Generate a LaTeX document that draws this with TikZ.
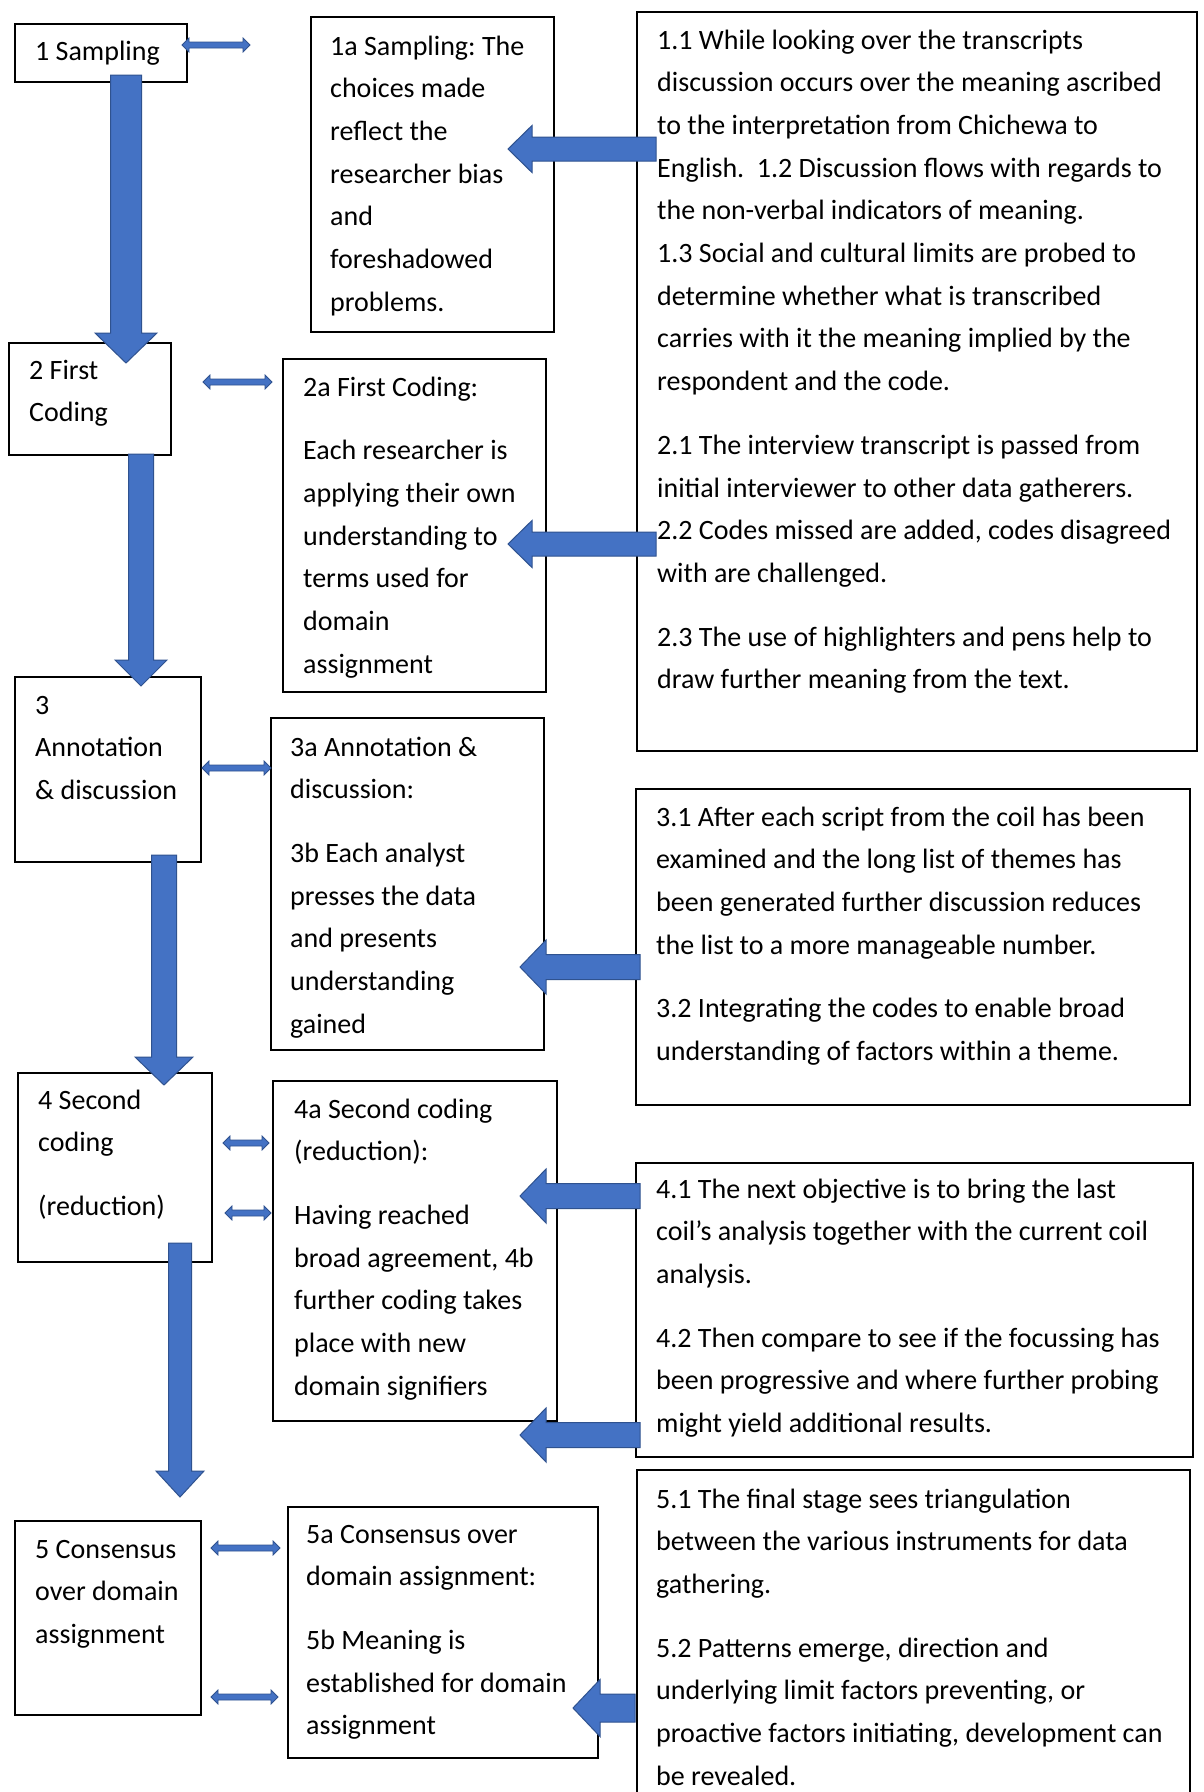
\documentclass[tikz,border=0pt]{standalone}
\usepackage{fontspec}
\setmainfont{Carlito}
\usetikzlibrary{calc}
\definecolor{arrowfill}{HTML}{4472C4}
\definecolor{arrowline}{HTML}{2F528F}
\frenchspacing
\tikzset{
  box/.style={draw=black, line width=2pt, anchor=north west, inner sep=0pt},
  txt/.style={anchor=base west, inner sep=0pt, font=\fontsize{28}{42.7}\selectfont},
  blk/.style={fill=arrowfill, draw=arrowline, line width=1pt, line join=miter},
}
% lines of a text block, first baseline at the node's base
\newcommand\lns[1]{\begin{tabular}[t]{@{}l@{}}#1\end{tabular}}
% rectangle node from its top-left and bottom-right corners
\newcommand\boxat[5]{\node[box, minimum width={#4-#2}, minimum height={#5-#3}] (#1) at (#2,#3) {};}
% wide block arrow pointing left: tip, tail, shaft half, head half, head length
\newcommand\leftblk[5]{\draw[blk] (#1) -- ($(#1)+(#5,-#4)$) -- ($(#1)+(#5,-#3)$) -- ($(#2)+(0,-#3)$) -- ($(#2)+(0,#3)$) -- ($(#1)+(#5,#3)$) -- ($(#1)+(#5,#4)$) -- cycle;}
% wide block arrow pointing down: tail, tip, shaft half, head half, head length
\newcommand\downblk[5]{\draw[blk] (#2) -- ($(#2)+(-#4,-#5)$) -- ($(#2)+(-#3,-#5)$) -- ($(#1)+(-#3,0)$) -- ($(#1)+(#3,0)$) -- ($(#2)+(#3,-#5)$) -- ($(#2)+(#4,-#5)$) -- cycle;}
% thin double-headed arrow between two points on one row
\newcommand\dblk[2]{\draw[blk, line width=0.8pt] (#1) -- ($(#1)+(7,-7)$) -- ($(#1)+(7,-3)$) -- ($(#2)+(-7,-3)$) -- ($(#2)+(-7,-7)$) -- (#2) -- ($(#2)+(-7,7)$) -- ($(#2)+(-7,3)$) -- ($(#1)+(7,3)$) -- ($(#1)+(7,7)$) -- cycle;}
\begin{document}
\begin{tikzpicture}[x=1pt, y=-1pt]
\useasboundingbox (0,0) rectangle (1203,1792);
\fill[white] (0,0) rectangle (1203,1792);
\clip (0,0) rectangle (1203,1792);

% ---- boxes ----
\boxat{b1}{14}{23}{186}{81}
\boxat{b1a}{310}{16}{553}{331}
\boxat{b11}{636}{11}{1196}{750}
\boxat{b2}{8}{342}{170}{454}
\boxat{b2a}{282}{358}{545}{691}
\boxat{b3}{14}{676}{200}{861}
\boxat{b3a}{270}{717}{543}{1049}
\boxat{b31}{635}{788}{1189}{1104}
\boxat{b4}{17}{1072}{211}{1261}
\boxat{b4a}{272}{1080}{556}{1420}
\boxat{b41}{635}{1162}{1192}{1456}
\boxat{b5}{14}{1520}{200}{1714}
\boxat{b5a}{287}{1506}{597}{1757}
\boxat{b51}{636}{1469}{1189}{1830}

% ---- texts ----
\node[txt] (t1) at (35,60) {\lns{1 Sampling}};
\node[txt] (t1a) at (330,55) {\lns{1a Sampling: The\\choices made\\reflect the\\researcher bias\\and\\foreshadowed\\problems.}};
\node[txt] (t11) at (657,49) {\lns{1.1 While looking over the transcripts\\
discussion occurs over the meaning ascribed\\
to the interpretation from Chichewa to\\
English.\ \ 1.2 Discussion flows with regards to\\
the non-verbal indicators of meaning.\\
1.3 Social and cultural limits are probed to\\
determine whether what is transcribed\\
carries with it the meaning implied by the\\
respondent and the code.\\[21pt]
2.1 The interview transcript is passed from\\
initial interviewer to other data gatherers.\\
2.2 Codes missed are added, codes disagreed\\
with are challenged.\\[21pt]
2.3 The use of highlighters and pens help to\\
draw further meaning from the text.}};
\node[txt] (t2) at (29,379) {\lns{2 First\\Coding}};
\node[txt] (t2a) at (303,396) {\lns{2a First Coding:\\[21pt]Each researcher is\\applying their own\\understanding to\\terms used for\\domain\\assignment}};
\node[txt] (t3) at (35,714) {\lns{3\\Annotation\\\& discussion}};
\node[txt] (t3a) at (290,756) {\lns{3a Annotation \&\\discussion:\\[21pt]3b Each analyst\\presses the data\\and presents\\understanding\\gained}};
\node[txt] (t31) at (656,826) {\lns{3.1 After each script from the coil has been\\
examined and the long list of themes has\\
been generated further discussion reduces\\
the list to a more manageable number.\\[21pt]
3.2 Integrating the codes to enable broad\\
understanding of factors within a theme.}};
\node[txt] (t4) at (38,1109) {\lns{4 Second\\coding\\[21pt](reduction)}};
\node[txt] (t4a) at (294,1118) {\lns{4a Second coding\\(reduction):\\[21pt]Having reached\\broad agreement, 4b\\further coding takes\\place with new\\domain signifiers}};
\node[txt] (t41) at (656,1198) {\lns{4.1 The next objective is to bring the last\\
coil’s analysis together with the current coil\\
analysis.\\[21pt]
4.2 Then compare to see if the focussing has\\
been progressive and where further probing\\
might yield additional results.}};
\node[txt] (t5) at (35,1558) {\lns{5 Consensus\\over domain\\assignment}};
\node[txt] (t5a) at (306,1543) {\lns{5a Consensus over\\domain assignment:\\[21pt]5b Meaning is\\established for domain\\assignment}};
\node[txt] (t51) at (656,1508) {\lns{5.1 The final stage sees triangulation\\
between the various instruments for data\\
gathering.\\[21pt]
5.2 Patterns emerge, direction and\\
underlying limit factors preventing, or\\
proactive factors initiating, development can\\
be revealed.}};

% ---- arrow end points ----
\coordinate (v1s) at (126,75);   \coordinate (v1e) at (126,363);
\coordinate (v2s) at (141,454);  \coordinate (v2e) at (141,686);
\coordinate (v3s) at (164,855);  \coordinate (v3e) at (164,1085);
\coordinate (v4s) at (180,1243); \coordinate (v4e) at (180,1497);

\coordinate (h1t) at (508,149);  \coordinate (h1s) at (656,149);
\coordinate (h2t) at (508,544);  \coordinate (h2s) at (656,544);
\coordinate (h3t) at (520,967);  \coordinate (h3s) at (640,967);
\coordinate (h4t) at (520,1196); \coordinate (h4s) at (640,1196);
\coordinate (h5t) at (520,1435); \coordinate (h5s) at (640,1435);
\coordinate (h6t) at (573,1708); \coordinate (h6s) at (635,1708);

\coordinate (d1l) at (182,45);   \coordinate (d1r) at (250,45);
\coordinate (d2l) at (203,382);  \coordinate (d2r) at (272,382);
\coordinate (d3l) at (202,768);  \coordinate (d3r) at (271,768);
\coordinate (d4l) at (223,1143); \coordinate (d4r) at (269,1143);
\coordinate (d5l) at (225,1213); \coordinate (d5r) at (271,1213);
\coordinate (d6l) at (211,1548); \coordinate (d6r) at (280,1548);
\coordinate (d7l) at (211,1697); \coordinate (d7r) at (278,1697);

% ---- main flow ----
\downblk{v1s}{v1e}{15.5}{31}{30}
\downblk{v2s}{v2e}{12.5}{26}{26}
\downblk{v3s}{v3e}{12.5}{29}{28}
\downblk{v4s}{v4e}{11.5}{24}{26}

% ---- detail feeds ----
\leftblk{h1t}{h1s}{12}{23.5}{24}
\leftblk{h2t}{h2s}{12}{23.5}{24}
\leftblk{h3t}{h3s}{12.5}{27}{26}
\leftblk{h4t}{h4s}{12.5}{27}{26}
\leftblk{h5t}{h5s}{12.5}{27}{26}
\leftblk{h6t}{h6s}{14}{28.5}{27}

% ---- links between stages and their notes ----
\dblk{d1l}{d1r}
\dblk{d2l}{d2r}
\dblk{d3l}{d3r}
\dblk{d4l}{d4r}
\dblk{d5l}{d5r}
\dblk{d6l}{d6r}
\dblk{d7l}{d7r}
\end{tikzpicture}
\end{document}
